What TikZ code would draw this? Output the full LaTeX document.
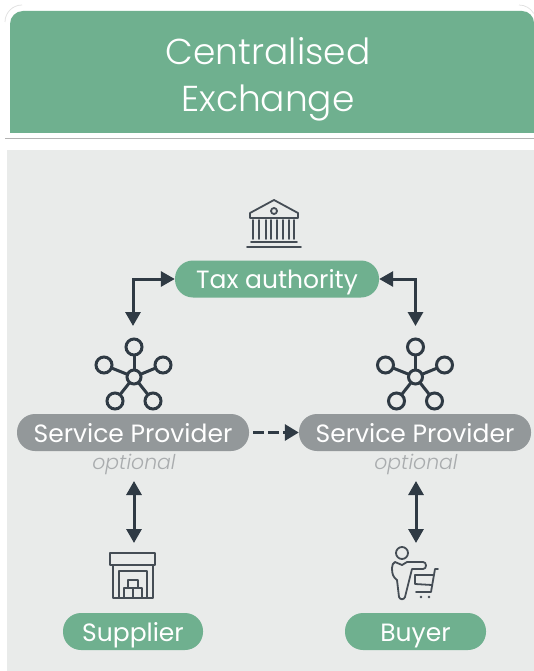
\documentclass[tikz,border=0pt]{standalone}
\usepackage{fontspec}
\setmainfont{Poppins}
\newfontfamily\lightfont{Poppins Light}
\usetikzlibrary{arrows.meta}
\definecolor{exgreen}{HTML}{6FB08F}
\definecolor{exback}{HTML}{E9EBEA}
\definecolor{expill}{HTML}{93989A}
\definecolor{exdark}{HTML}{2F3A44}
\definecolor{exicon}{HTML}{454D55}
\definecolor{exoption}{HTML}{A9ACAE}
\tikzset{
  pill/.style={text=white,font=\fontsize{25}{25}\selectfont,minimum height=37pt,text height=19pt,text depth=0pt,inner sep=0pt,rounded corners=18pt},
  greenpill/.style={pill,fill=exgreen},
  graypill/.style={pill,fill=expill,minimum width=232pt},
  optional/.style={text=exoption,font=\lightfont\fontsize{20.4}{20.4}\selectfont\itshape,inner sep=0pt},
  link/.style={draw=exdark,line width=3pt,{Triangle[length=14pt,width=15pt]}-{Triangle[length=14pt,width=15pt]}},
  icon/.style={draw=exicon,line width=1.8pt,line join=round,line cap=round},
  hub/.pic={
    \foreach \coor in {(0,-30),(-30,-12),(29,-12),(-19,24),(19,24)}{
      \draw[exdark,line width=3pt] (0,0) -- \coor;
      \draw[exdark,line width=3pt,fill=exback] \coor circle (8);
    }
    \draw[exdark,line width=3pt,fill=exback] (0,0) circle (7);
  }
}
\begin{document}
\begin{tikzpicture}[x=1pt,y=-1pt]
\useasboundingbox (0,0) rectangle (534,671);
\fill[white] (0,0) rectangle (534,671);
% header
\draw[black!12,line width=0.7pt] (5,22) arc (180:270:17);
\draw[black!12,line width=0.7pt] (519,5) arc (270:330:17);
\fill[exgreen] (10,133) -- (10,24) arc (180:270:13) -- (522,11) arc (270:360:12) -- (534,133) -- cycle;
\draw[black!30,line width=0.8pt] (5,138.5) -- (534,138.5);
\fill[exback] (7,150) rectangle (534,671);
\node[inner sep=0pt,text=white,align=center,font=\lightfont\fontsize{36}{47}\selectfont] (title) at (268,79.5) {Centralised\\Exchange};
% pills
\node[greenpill,minimum width=204pt] (tax) at (277,279) {Tax authority};
\node[graypill] (spleft) at (133,432.5) {Service Provider};
\node[graypill] (spright) at (415,432.5) {Service Provider};
\node[greenpill,minimum width=140pt] (supplier) at (133,631.5) {Supplier};
\node[greenpill,minimum width=141pt] (buyer) at (415.5,631.5) {Buyer};
\node[optional] (optleft) at (134,464) {optional};
\node[optional] (optright) at (416,464) {optional};
% arrow ends
\coordinate (hubleft) at (133,326);
\coordinate (hubright) at (415.5,326);
\coordinate (optleftend) at (134,481);
\coordinate (optrightend) at (416,481);
\coordinate (storeend) at (134,543);
\coordinate (cartend) at (416,543);
% arrows
\draw[link] (tax.west) -| (hubleft);
\draw[link] (tax.east) -| (hubright);
\draw[link] (optleftend) -- (storeend);
\draw[link] (optrightend) -- (cartend);
\draw[draw=exdark,line width=3pt,dash pattern=on 11pt off 4pt,-{Triangle[length=14pt,width=16pt]}] (spleft.east) ++(4,0) -- (spright.west);
% hubs
\pic at (134,377) {hub};
\pic at (415.5,377) {hub};
% bank
\draw[icon] (250,218) -- (250,213) -- (274,200) -- (298,213) -- (298,218) -- cycle;
\draw[icon] (274,211) circle (3);
\foreach \x in {253,259,266,271,277,283,289,294}{
  \draw[icon] (\x,220) -- (\x,239);
}
\draw[icon] (251,242) -- (297,242);
\draw[icon] (247,247) -- (301,247);
% warehouse
\draw[icon] (110,553) rectangle (155,565);
\draw[icon] (113,565) -- (113,598) -- (153,598) -- (153,565);
\draw[icon] (119,598) -- (119,571) -- (147,571) -- (147,598);
\draw[icon] (128,588) -- (128,580) -- (138,580) -- (138,588);
\draw[icon] (124,598) rectangle (133,588);
\draw[icon] (133,598) rectangle (142,588);
% buyer
\draw[icon] (402,553) circle (6);
\draw[icon] (395,562) -- (402,565) -- (407,562) -- (423,562) .. controls (427,562) and (427,569) .. (423,569) -- (412,569) -- (405,597) .. controls (404,600) and (400,600) .. (399,597) -- (397,580) .. controls (393,577) and (392,574) .. (392,568) .. controls (392,565) and (393,563) .. (395,562) -- cycle;
\draw[icon] (438,569) -- (435,569) -- (431,592) -- (416,592);
\draw[icon] (415,575) -- (433,575);
\draw[icon] (415,575) -- (415,584) -- (432,585);
\fill[exicon] (421,597) circle (1.3) (429,597) circle (1.3);
\end{tikzpicture}
\end{document}
